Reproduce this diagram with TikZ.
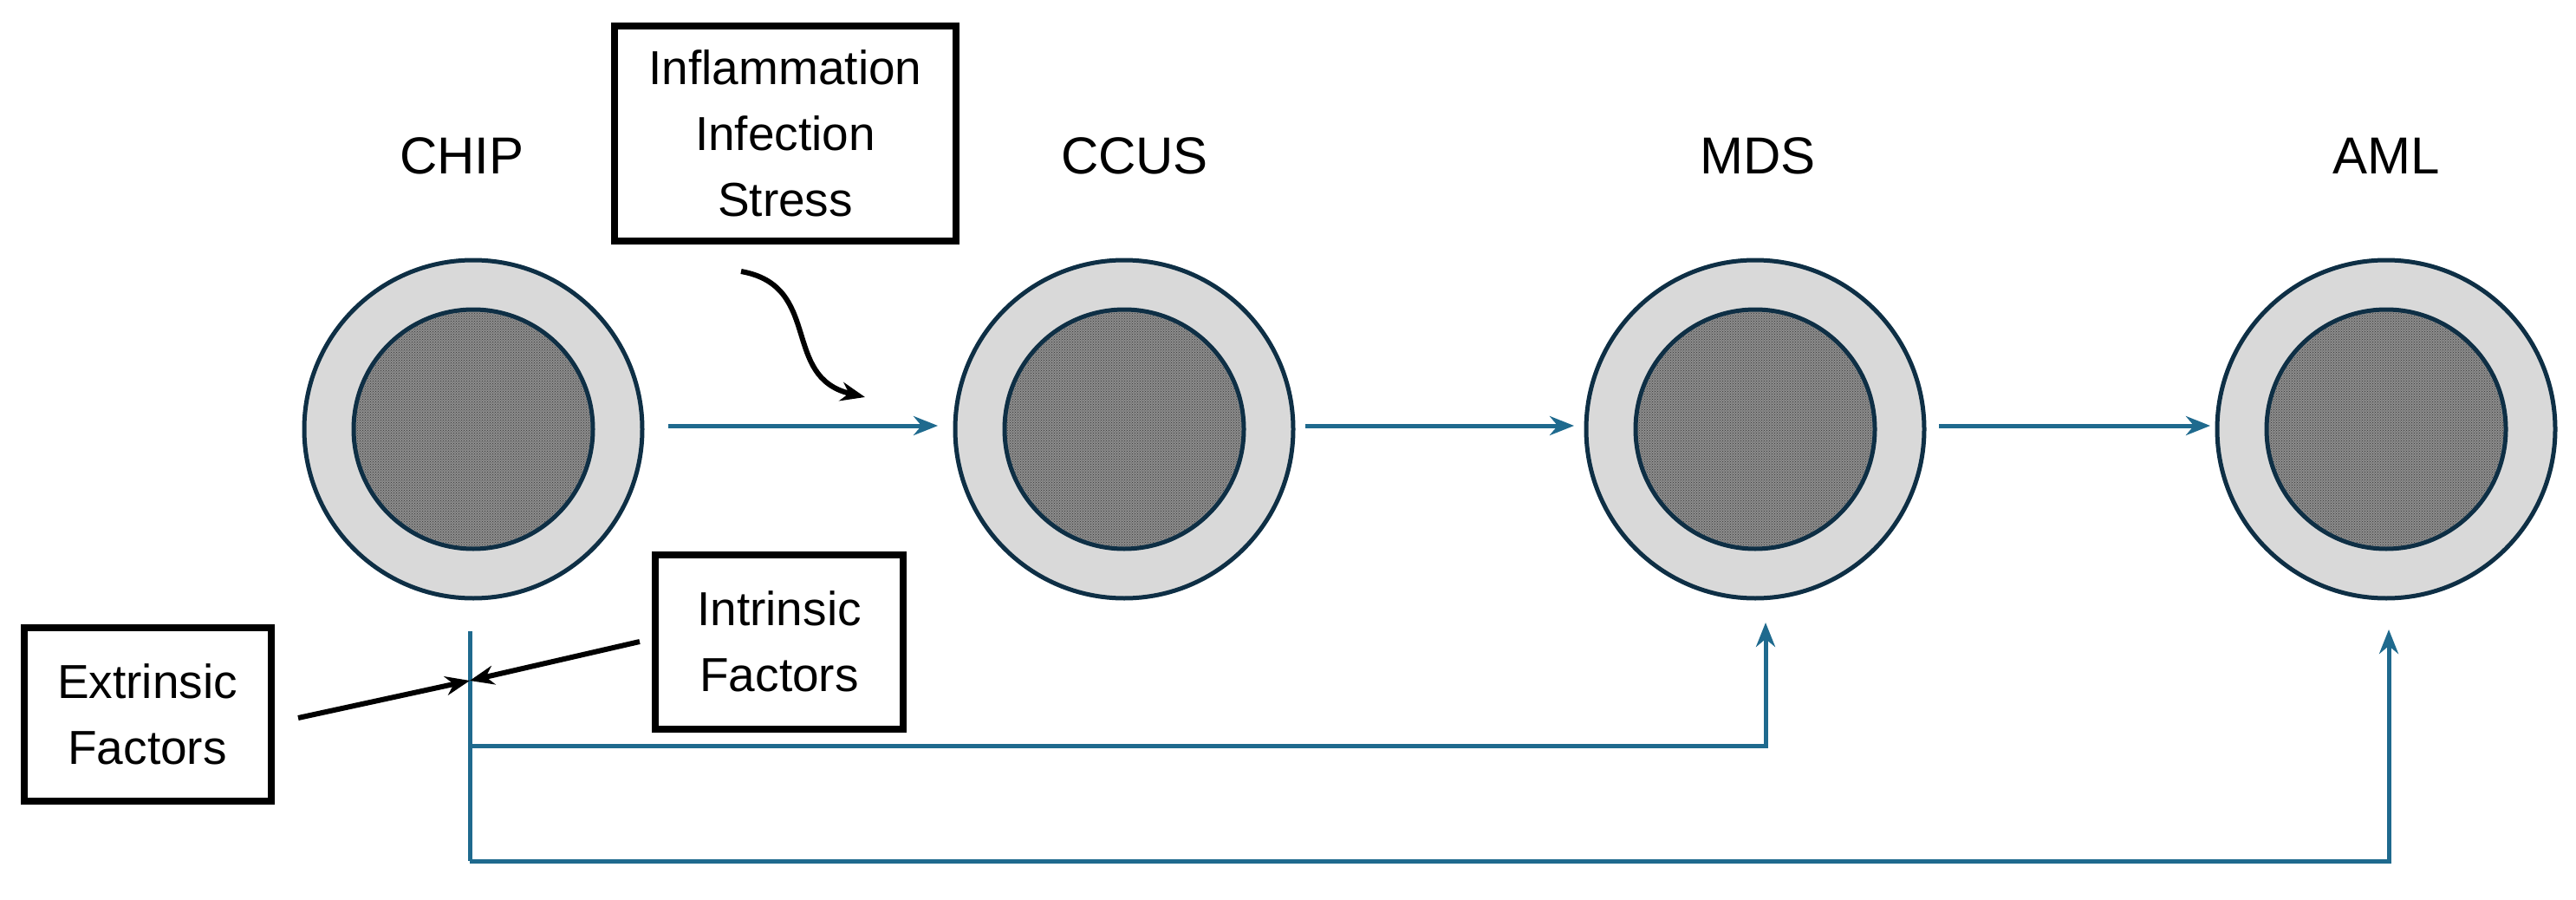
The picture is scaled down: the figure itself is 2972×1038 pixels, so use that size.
\documentclass[tikz,border=0pt]{standalone}
\usepackage{fontspec}
\setmainfont{Liberation Sans}
\usetikzlibrary{arrows.meta,patterns,positioning}
\definecolor{flowblue}{HTML}{1F6A8E}
\definecolor{ringline}{HTML}{0E2F45}
\tikzset{stage ring/.style={circle, draw=ringline, line width=5pt, fill=black!15, minimum size=390pt, inner sep=0pt}}
\tikzset{stage core/.style={circle, draw=ringline, line width=5pt, fill=black!45, minimum size=276pt, inner sep=0pt}}
\tikzset{stage label/.style={font=\fontsize{60}{70}\selectfont}}
\tikzset{factor box/.style={draw, line width=8pt, align=center, inner sep=0pt, font=\fontsize{55}{76}\selectfont}}
\tikzset{flow edge/.style={draw=flowblue, line width=5pt, -{Stealth[length=28pt,width=22pt]}}}
\tikzset{flow line/.style={draw=flowblue, line width=5pt}}
\tikzset{factor edge/.style={draw, line width=6pt, -{Stealth[length=28pt,width=22pt]}}}

\begin{document}
\begin{tikzpicture}
  [x=1pt, y=-1pt]
  \useasboundingbox (0,0) rectangle (2972,1038);
  \foreach \name/\x in {chip/546, ccus/1297, mds/2025, aml/2753} {
    \node [stage ring] (\name) at (\x, 495) {};
    \node [stage core] (\name core) at (\x, 495) {};
    \fill [pattern=crosshatch dots, pattern color=black!80] (\x, 495) circle (135pt);
  }
  \node [stage label] (chiplbl) at (533, 180) {CHIP};
  \node [stage label] (ccuslbl) at (1309, 180) {CCUS};
  \node [stage label] (mdslbl)  at (2028, 180) {MDS};
  \node [stage label] (amllbl)  at (2753, 180) {AML};

  \node [factor box, minimum width=394pt, minimum height=248pt] (stress) at (906, 154) {Inflammation\\Infection\\Stress};
  \node [factor box, minimum width=285pt, minimum height=200pt] (extr) at (170, 824) {Extrinsic\\Factors};
  \node [factor box, minimum width=286pt, minimum height=201pt] (intr) at (899, 740) {Intrinsic\\Factors};

  \coordinate (a1s) at (771, 491);  \coordinate (a1e) at (1082, 491);
  \coordinate (a2s) at (1506, 491); \coordinate (a2e) at (1816, 491);
  \coordinate (a3s) at (2237, 491); \coordinate (a3e) at (2550, 491);
  \draw [flow edge] (a1s) -- (a1e);
  \draw [flow edge] (a2s) -- (a2e);
  \draw [flow edge] (a3s) -- (a3e);

  \coordinate (stem top) at (542, 728);
  \coordinate (stem bot) at (542, 993);
  \coordinate (join) at (542, 785);
  \coordinate (mds in) at (2037, 718);
  \coordinate (aml in) at (2756, 726);
  \draw [flow line] (stem top) -- (stem bot);
  \draw [flow edge] (542, 860) -| (mds in);
  \draw [flow edge] (stem bot) -| (aml in);

  \coordinate (stress out) at (855, 313);
  \coordinate (stress tip) at (998, 458);
  \draw [factor edge] (stress out) .. controls (950, 330) and (900, 435) .. (stress tip);
  \draw [factor edge] (344, 828) -- (join);
  \draw [factor edge] (738, 740) -- (join);
\end{tikzpicture}
\end{document}
